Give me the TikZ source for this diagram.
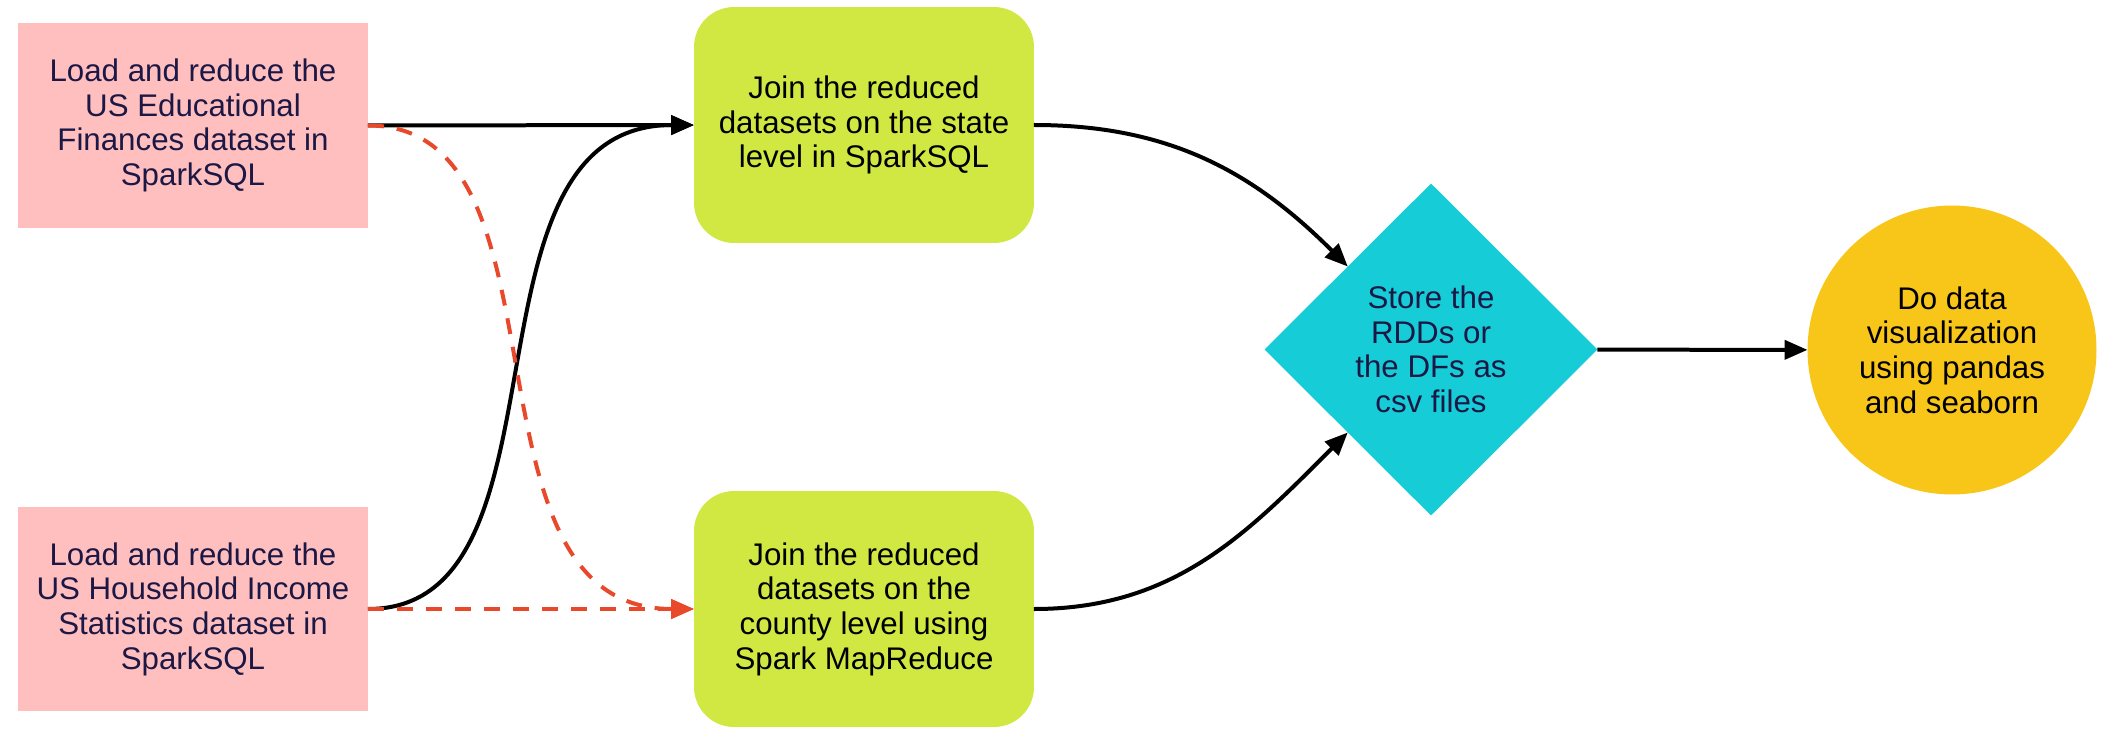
\documentclass[tikz,border=0pt]{standalone}
\usepackage{fontspec}
\setmainfont{Liberation Sans}
\usetikzlibrary{shapes.geometric, arrows.meta}

\definecolor{loadpink}{HTML}{FFBFBF}
\definecolor{joingreen}{HTML}{D1E842}
\definecolor{storecyan}{HTML}{16CCD6}
\definecolor{vizgold}{HTML}{F8C619}
\definecolor{dashred}{HTML}{E8492B}
\definecolor{textnavy}{HTML}{1B1845}

\begin{document}
\begin{tikzpicture}[
    x=0.02cm, y=0.02cm,
    every node/.style={font=\fontsize{17.8}{19.7}\selectfont, align=center, outer sep=0pt},
    loadbox/.style={rectangle, fill=loadpink, text=textnavy,
        minimum width=7cm, minimum height=4.1cm},
    joinbox/.style={rectangle, rounded corners=0.8cm, fill=joingreen,
        minimum width=6.8cm, minimum height=4.72cm},
    storebox/.style={diamond, fill=storecyan, text=textnavy,
        minimum width=6.66cm, minimum height=6.64cm, inner sep=0pt},
    vizbox/.style={circle, fill=vizgold, minimum size=5.78cm},
    flow/.style={line width=0.08cm, -{Triangle[length=0.46cm, width=0.38cm]}},
    alt/.style={flow, draw=dashred, dash pattern=on 0.32cm off 0.26cm}
]
    \useasboundingbox (0,0) rectangle (2115,738);

    \node[loadbox] (edu) at (193,612.5) {Load and reduce the\\US Educational\\Finances dataset in\\SparkSQL};
    \node[loadbox] (inc) at (193,129) {Load and reduce the\\US Household Income\\Statistics dataset in\\SparkSQL};
    \node[joinbox] (state) at (864,613) {Join the reduced\\datasets on the state\\level in SparkSQL};
    \node[joinbox] (county) at (864,129) {Join the reduced\\datasets on the\\county level using\\Spark MapReduce};
    \node[storebox] (store) at (1431,388.5) {Store the\\RDDs or\\the DFs as\\csv files};
    \node[vizbox] (viz) at (1952,388) {Do data\\visualization\\using pandas\\and seaborn};

    \draw[flow] (edu) -- (state);
    \draw[flow] (inc.east) .. controls (581,129) and (449,613) .. (state.west);
    \draw[flow] (state.east) to[out=0, in=135] (store.north west);
    \draw[flow] (county.east) to[out=0, in=-135] (store.south west);
    \draw[flow] (store) -- (viz);
    % dashed route
    \draw[alt] (edu.east) .. controls (581,613) and (449,129) .. (county.west);
    \draw[alt] (inc) -- (county);
\end{tikzpicture}
\end{document}
